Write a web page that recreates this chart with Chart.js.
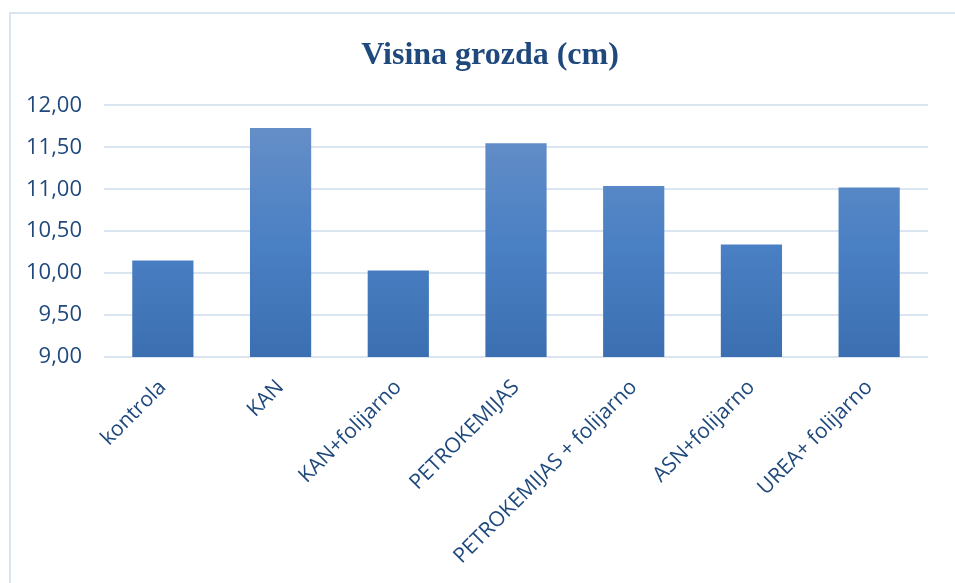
<!DOCTYPE html>
<html>
<head>
<meta charset="utf-8">
<script src="https://cdn.jsdelivr.net/npm/chart.js@4"></script>
<style>
  body { margin: 0; background: #fff; overflow: hidden; }
  #wrap { position: relative; width: 955px; height: 583px; }
  #frame { position: absolute; left: 9px; top: 12px; width: 960px; height: 600px; border: 2px solid #dbe5f1; box-sizing: border-box; }
  canvas { position: absolute; left: 0; top: 0; }
</style>
</head>
<body>
<div id="wrap">
  <div id="frame"></div>
  <canvas id="chart" width="955" height="583"></canvas>
</div>
<script>
// Data
const categories = ['kontrola', 'KAN', 'KAN+folijarno', 'PETROKEMIJAS', 'PETROKEMIJAS + folijarno', 'ASN+folijarno', 'UREA+ folijarno'];
const values = [10.15, 11.73, 10.03, 11.55, 11.04, 10.34, 11.02];
const yTicks = [9, 9.5, 10, 10.5, 11, 11.5, 12];

const textColor = '#1f497d';
const gridColor = '#dbe5f2';

function barGradient(context){
    const chart = context.chart;
    const area = chart.chartArea;
    if(!area) return '#4a7ebb';
    const g = chart.ctx.createLinearGradient(0, area.top, 0, area.bottom);
    g.addColorStop(0, '#6a91c8');
    g.addColorStop(0.55, '#4a80c4');
    g.addColorStop(1, '#3b6fb1');
    return g;
}

// title in the original sits a bit right of the canvas centre
const shiftTitle = {
    id: 'shiftTitle',
    afterLayout(chart){
        if(chart.titleBlock) chart.titleBlock.left += 42;
    }
};

const ctx = document.getElementById('chart').getContext('2d');
new Chart(ctx, {
    type: 'bar',
    data: {
        labels: categories,
        datasets: [{
            label: 'Visina grozda (cm)',
            data: values,
            backgroundColor: barGradient,
            barPercentage: 0.52,
            categoryPercentage: 1
        }]
    },
    options: {
        responsive: false,
        animation: false,
        layout: { padding: { left: 10, right: 27, top: 0, bottom: 0 } },
        plugins: {
            legend: { display: false },
            tooltip: { enabled: false },
            title: {
                display: true,
                text: 'Visina grozda (cm)',
                color: textColor,
                font: { family: 'Liberation Serif', size: 32, weight: 'bold' },
                padding: { top: 37, bottom: 30 }
            }
        },
        scales: {
            y: {
                min: 9,
                max: 12,
                afterBuildTicks: (scale)=>{ scale.ticks = yTicks.map(v=>({value: v})); },
                afterFit: (scale)=>{ scale.width = 94; },
                border: { display: false },
                grid: { color: gridColor, lineWidth: 2, drawTicks: false },
                ticks: {
                    color: textColor,
                    padding: 22,
                    font: { family: 'Open Sans', size: 22 },
                    callback: (v)=> v.toFixed(2).replace('.', ',')
                }
            },
            x: {
                afterFit: (scale)=>{ scale.height = 226; },
                border: { display: false },
                grid: { display: false },
                ticks: {
                    color: textColor,
                    minRotation: 45,
                    maxRotation: 45,
                    padding: 10,
                    autoSkip: false,
                    font: { family: 'Open Sans', size: 21 }
                }
            }
        }
    },
    plugins: [shiftTitle]
});
</script>
</body>
</html>
